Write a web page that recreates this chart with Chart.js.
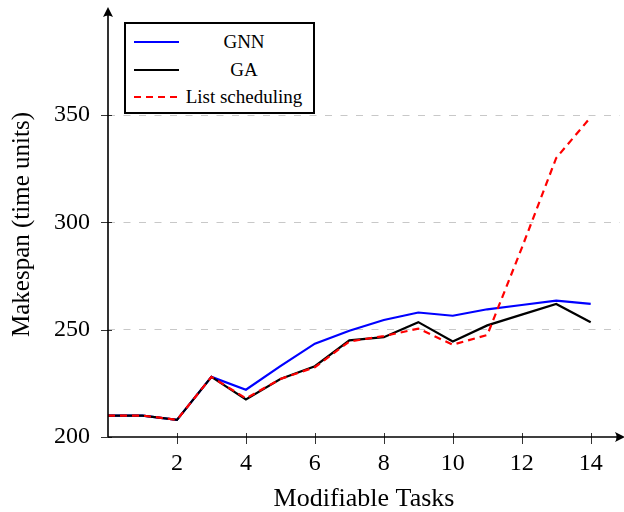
<!DOCTYPE html>
<html>
<head>
<meta charset="utf-8">
<script src="https://cdn.jsdelivr.net/npm/chart.js@4.4.0/dist/chart.umd.min.js"></script>
<style>
  html, body { margin: 0; padding: 0; background: #fff; }
  #wrap { position: relative; width: 624px; height: 512px; }
  #legend {
    position: absolute; left: 124px; top: 22px; width: 187px; height: 88px;
    border: 2px solid #000; background: #fff;
    font-family: "Liberation Serif", serif; font-size: 19px; color: #000;
  }
  .row { position: absolute; left: 0; height: 24px; display: flex; align-items: center; }
  .row svg { margin-left: 8px; }
  .row span { width: 122px; text-align: center; margin-left: 4px; }
</style>
</head>
<body>
<div id="wrap">
  <canvas id="chart" width="624" height="512"></canvas>
  <div id="legend"></div>
</div>
<script>
// data
const tasks = [0, 1, 2, 3, 4, 5, 6, 7, 8, 9, 10, 11, 12, 13, 14];
const gnn = [210, 210, 208, 228, 222, 233, 243.5, 249.5, 254.5, 258, 256.5, 259.5, 261.5, 263.5, 262];
const ga = [210, 210, 208, 228, 217.5, 227, 233, 245, 246.5, 253.5, 244.5, 252, 257, 262, 253.5];
const listSched = [210, 210, 208, 228, 218, 227, 232.5, 244.5, 247, 250.5, 243, 247.5, 288, 330, 349];
const xTicks = [2, 4, 6, 8, 10, 12, 14];
const yTicks = [200, 250, 300, 350];
const seriesNames = ["GNN", "GA", "List scheduling"];
const seriesColors = ["#0000ff", "#000000", "#ff0000"];

const serif = "Liberation Serif";

function points(values) {
    return tasks.map((t, i) => ({ x: t, y: values[i] }));
}

// 軸（矢印付き）と目盛り
const axesPlugin = {
    id: "axes",
    afterDraw(chart) {
        const c = chart.ctx;
        const xs = chart.scales.x;
        const ys = chart.scales.y;
        const x0 = xs.getPixelForValue(0);
        const y0 = ys.getPixelForValue(200);
        c.save();
        c.strokeStyle = "#000";
        c.fillStyle = "#000";

        // tick marks
        c.lineWidth = 0.8;
        xTicks.forEach(v => {
            const px = Math.round(xs.getPixelForValue(v)) + 0.5;
            c.beginPath();
            c.moveTo(px, y0 - 4);
            c.lineTo(px, y0 + 7);
            c.stroke();
        });
        yTicks.forEach(v => {
            const py = Math.round(ys.getPixelForValue(v)) + 0.5;
            c.beginPath();
            c.moveTo(x0 - 7, py);
            c.lineTo(x0 + 4, py);
            c.stroke();
        });

        c.lineWidth = 1.6;
        c.beginPath();
        c.moveTo(x0, y0);
        c.lineTo(622, y0);
        c.moveTo(x0, y0);
        c.lineTo(x0, 11);
        c.stroke();

        // arrow heads
        c.beginPath();
        c.moveTo(625, y0);
        c.lineTo(615, y0 - 5);
        c.quadraticCurveTo(618, y0, 615, y0 + 5);
        c.closePath();
        c.fill();
        c.beginPath();
        c.moveTo(x0, 7);
        c.lineTo(x0 - 5, 17);
        c.quadraticCurveTo(x0, 14, x0 + 5, 17);
        c.closePath();
        c.fill();
        c.restore();
    }
};

new Chart(document.getElementById("chart"), {
    type: "line",
    data: {
        datasets: [
            {
                label: seriesNames[0],
                data: points(gnn),
                borderColor: seriesColors[0],
                borderWidth: 2.2,
                pointRadius: 0,
                tension: 0,
                order: 3
            },
            {
                label: seriesNames[1],
                data: points(ga),
                borderColor: seriesColors[1],
                borderWidth: 2.2,
                pointRadius: 0,
                tension: 0,
                order: 2
            },
            {
                label: seriesNames[2],
                data: points(listSched),
                borderColor: seriesColors[2],
                borderWidth: 2.2,
                borderDash: [7, 5],
                pointRadius: 0,
                tension: 0,
                order: 1
            }
        ]
    },
    options: {
        responsive: false,
        animation: false,
        layout: { padding: { top: 12, right: 4, left: 0, bottom: 0 } },
        plugins: {
            legend: { display: false },
            tooltip: { enabled: false }
        },
        scales: {
            x: {
                type: "linear",
                min: 0,
                max: 14.85,
                afterBuildTicks: s => { s.ticks = xTicks.map(v => ({ value: v })); },
                afterFit: s => { s.height = 75; },
                grid: { display: false, drawTicks: false },
                border: { display: false },
                ticks: {
                    font: { family: serif, size: 24 },
                    color: "#000",
                    padding: 12
                },
                title: {
                    display: true,
                    text: "Modifiable Tasks",
                    color: "#000",
                    font: { family: serif, size: 26, lineHeight: 1 },
                    padding: 0
                }
            },
            y: {
                min: 200,
                max: 398,
                afterBuildTicks: s => { s.ticks = yTicks.map(v => ({ value: v })); },
                afterFit: s => {
                    s.width = 108;
                    s.paddingTop = 0;
                    s.paddingBottom = 0;
                },
                grid: {
                    drawTicks: false,
                    lineWidth: 1,
                    color: ctx => (ctx.tick && ctx.tick.value === 200) ? "rgba(0,0,0,0)" : "#c8c8c8"
                },
                border: { display: false, dash: [7, 8.5] },
                ticks: {
                    font: { family: serif, size: 24 },
                    color: "#000",
                    padding: 18
                },
                title: {
                    display: true,
                    text: "Makespan (time units)",
                    color: "#000",
                    font: { family: serif, size: 25 },
                    padding: { top: 7, bottom: 0 }
                }
            }
        }
    },
    plugins: [axesPlugin]
});

// 凡例
const legend = document.getElementById("legend");
seriesNames.forEach((name, i) => {
    const row = document.createElement("div");
    row.className = "row";
    row.style.top = (6 + i * 27.5) + "px";
    const dash = i === 2 ? ' stroke-dasharray="7,5"' : "";
    row.innerHTML = '<svg width="45" height="4"><line x1="0" y1="2" x2="45" y2="2" stroke="' +
        seriesColors[i] + '" stroke-width="2"' + dash + '/></svg><span>' + name + '</span>';
    legend.appendChild(row);
});
</script>
</body>
</html>
